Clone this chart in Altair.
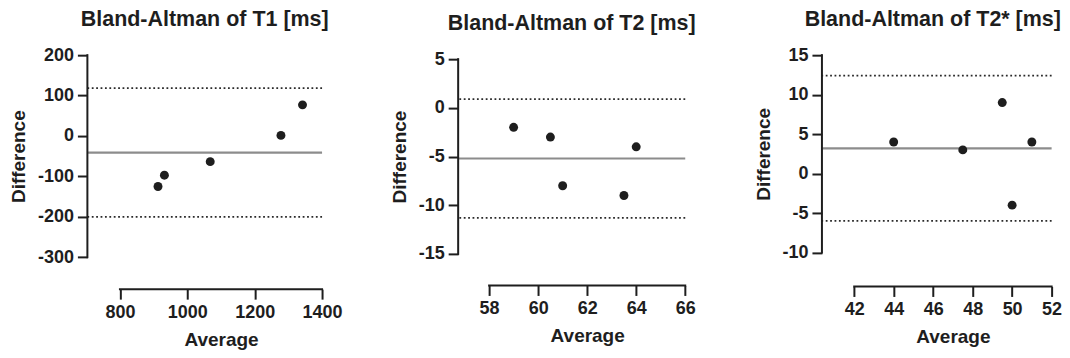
import altair as alt
import pandas as pd

# ---- data ----
t1_avg = [913, 932, 1068, 1278, 1342]
t1_diff = [-125, -97, -63.5, 1.5, 77]
t1_bias = [-41.2]
t1_limits = [118.5, -200.3]
t1_xticks = [800, 1000, 1200, 1400]
t1_yticks = [-300, -200, -100, 0, 100, 200]

t2_avg = [59, 60.5, 61, 63.5, 64]
t2_diff = [-2, -3, -8, -9, -4]
t2_bias = [-5.2]
t2_limits = [0.9, -11.3]
t2_xticks = [58, 60, 62, 64, 66]
t2_yticks = [-15, -10, -5, 0, 5]

t3_avg = [44, 47.5, 49.5, 50, 51]
t3_diff = [4, 3, 9, -4, 4]
t3_bias = [3.2]
t3_limits = [12.4, -6.0]
t3_xticks = [42, 44, 46, 48, 50, 52]
t3_yticks = [-10, -5, 0, 5, 10, 15]

titles = ["Bland-Altman of T1 [ms]", "Bland-Altman of T2 [ms]", "Bland-Altman of T2* [ms]"]

INK = "#1e1e1e"
FONT = "Liberation Sans"
PLAIN = "'' + datum.value"  # plain hyphen-minus labels, no thousands separator


def panel(title, avg, diff, bias, limits, xticks, yticks, width, height, xrange, yrange, tdx=0):
    pts = pd.DataFrame({"avg": avg, "diff": diff})
    bias_df = pd.DataFrame({"val": bias})
    lim_df = pd.DataFrame({"val": limits})
    xline_df = pd.DataFrame({"x0": [xticks[0]], "x1": [xticks[-1]]})
    yline_df = pd.DataFrame({"y0": [yticks[0]], "y1": [yticks[-1]]})

    xscale = alt.Scale(domain=[xticks[0], xticks[-1]], range=xrange, nice=False, zero=False)
    yscale = alt.Scale(domain=[yticks[0], yticks[-1]], range=yrange, nice=False, zero=False)
    xaxis = alt.Axis(values=xticks, title="Average", grid=False, domain=False, labelExpr=PLAIN)
    yaxis = alt.Axis(values=yticks, title="Difference", grid=False, domain=False, labelExpr=PLAIN)

    # axis lines spanning only the tick range (GraphPad-style offset axes)
    xline = alt.Chart(xline_df).mark_rule(color=INK, strokeWidth=2, strokeCap="square").encode(
        x=alt.X("x0:Q", scale=xscale, axis=xaxis),
        x2="x1:Q",
        y=alt.value(height),
    )
    yline = alt.Chart(yline_df).mark_rule(color=INK, strokeWidth=2, strokeCap="square").encode(
        y=alt.Y("y0:Q", scale=yscale, axis=yaxis),
        y2="y1:Q",
        x=alt.value(0),
    )
    lim = alt.Chart(lim_df).mark_rule(color="#2a2a2a", strokeWidth=1.8, strokeDash=[1.8, 2.6]).encode(
        y=alt.Y("val:Q", scale=yscale, axis=yaxis)
    )
    mean = alt.Chart(bias_df).mark_rule(color="#8c8c8c", strokeWidth=2.2).encode(
        y=alt.Y("val:Q", scale=yscale, axis=yaxis)
    )
    dots = alt.Chart(pts).mark_circle(size=80, color=INK, opacity=1).encode(
        x=alt.X("avg:Q", scale=xscale, axis=xaxis),
        y=alt.Y("diff:Q", scale=yscale, axis=yaxis),
    )
    return alt.layer(lim, mean, xline, yline, dots).properties(
        width=width,
        height=height,
        title=alt.TitleParams(title, fontSize=21.5, fontWeight="bold", anchor="middle",
                              frame="group", offset=16, color=INK, font=FONT, dx=tdx),
    )


p1 = panel(titles[0], t1_avg, t1_diff, t1_bias, t1_limits, t1_xticks, t1_yticks,
           235, 234.3, [32.6, 235], [202.3, 0])
p2 = panel(titles[1], t2_avg, t2_diff, t2_bias, t2_limits, t2_xticks, t2_yticks,
           227.4, 230.6, [31, 227.4], [199, 4])
p3 = panel(titles[2], t3_avg, t3_diff, t3_bias, t3_limits, t3_xticks, t3_yticks,
           230, 231.6, [32.3, 230], [197.6, 0], tdx=-4)

chart = alt.hconcat(
    p1, p2, p3, spacing=136.3, bounds="flush",
    padding={"left": 1.5, "top": 0, "right": 0, "bottom": 0},
).configure(
    font=FONT
).configure_view(
    stroke=None
).configure_axis(
    tickColor=INK, tickWidth=2, tickSize=10,
    labelFont=FONT, labelFontSize=18, labelFontWeight="bold", labelColor=INK, labelPadding=4,
    labelOverlap=False, labelFlush=False,
    titleFont=FONT, titleFontSize=19, titleFontWeight="bold", titleColor=INK,
).configure_axisY(titlePadding=8.5).configure_axisX(titlePadding=9)

chart.save("out.html", embed_options={"renderer": "svg", "actions": False})
